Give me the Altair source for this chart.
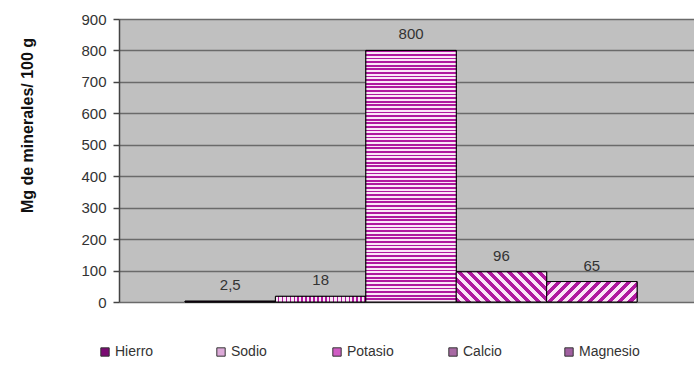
import altair as alt
import pandas as pd

minerals = ["Hierro", "Sodio", "Potasio", "Calcio", "Magnesio"]
values = [2.5, 18, 800, 96, 65]
legend_colors = ["#7a0a72", "#dcaad8", "#d05cc4", "#a86aa4", "#a060a0"]

df = pd.DataFrame({"Mineral": minerals, "value": values})

W, H = 575, 283
YMAX = 900
PAD_OUTER = 0.68
BAND = W / (len(minerals) + 2 * PAD_OUTER)

STRIPE = "#b0189f"
GAP = "#fbe6f7"
FONT = "Liberation Sans"


def stripe_stops(n, c1=STRIPE, c2=GAP, duty=0.5):
    n = max(1, int(round(n)))
    stops = []
    for i in range(n):
        a, b, c = i / n, (i + duty) / n, (i + 1) / n
        stops += [alt.GradientStop(color=c1, offset=a), alt.GradientStop(color=c1, offset=b),
                  alt.GradientStop(color=c2, offset=b), alt.GradientStop(color=c2, offset=c)]
    return stops


def fill_for(name, v):
    w = BAND
    h = max(v / YMAX * H, 0.5)
    if name == "Hierro":
        return "#6e0868"
    if name == "Sodio":
        return alt.LinearGradient(gradient="linear", x1=0, y1=0, x2=1, y2=0,
                                  stops=stripe_stops(w / 4, GAP, STRIPE, 0.6))
    if name == "Potasio":
        return alt.LinearGradient(gradient="linear", x1=0, y1=0, x2=0, y2=1,
                                  stops=stripe_stops(h / 3.6))
    k = (w + h) / (w * w + h * h)
    n = (w + h) / 10
    if name == "Calcio":
        return alt.LinearGradient(gradient="linear", x1=0, y1=1, x2=k * w, y2=1 - k * h,
                                  stops=stripe_stops(n))
    return alt.LinearGradient(gradient="linear", x1=0, y1=0, x2=k * w, y2=k * h,
                              stops=stripe_stops(n))


xenc = alt.X("Mineral:N", sort=minerals, axis=None,
             scale=alt.Scale(domain=minerals, paddingInner=0, paddingOuter=PAD_OUTER, align=0.537))
yenc = alt.Y("value:Q",
             scale=alt.Scale(domain=[0, YMAX], nice=False),
             axis=alt.Axis(values=list(range(0, 1000, 100)), title="Mg de minerales/ 100 g",
                           titleFont=FONT, titleFontSize=16, titleFontWeight="bold", titleColor="#111",
                           titleX=-92, titleY=106, titleAngle=-90, titleAlign="center", titleBaseline="middle",
                           labelFont=FONT, labelFontSize=15, labelColor="#333", labelPadding=7,
                           tickSize=6, tickColor="#444", tickWidth=1.5,
                           domainColor="#444", domainWidth=1.5,
                           grid=True, gridColor="#6a6a6a", gridWidth=1.6))

base = alt.Chart(df)

legend_layer = base.mark_bar(stroke="black", strokeWidth=1).encode(
    x=xenc, y=yenc,
    color=alt.Color("Mineral:N", sort=minerals,
                    scale=alt.Scale(domain=minerals, range=legend_colors),
                    legend=alt.Legend(title=None, orient="none", direction="horizontal", columns=5,
                                      legendX=-21, legendY=326, gridAlign="all", columnPadding=38,
                                      symbolType="square", symbolSize=70, symbolStrokeColor="#333",
                                      symbolStrokeWidth=1, labelFont=FONT, labelFontSize=14,
                                      labelColor="#333", labelOffset=3, padding=0)),
)

layers = [legend_layer]
for name, v in zip(minerals, values):
    layers.append(
        base.transform_filter(alt.datum.Mineral == name)
        .mark_bar(fill=fill_for(name, v), stroke="black", strokeWidth=1)
        .encode(x=xenc, y=yenc)
    )

labels = base.transform_calculate(
    label="replace(toString(datum.value), '.', ',')"
).mark_text(font=FONT, fontSize=15, color="#333", baseline="alphabetic", dy=-11).encode(
    x=xenc, y=yenc, text="label:N"
)
layers.append(labels)

chart = alt.layer(*layers).properties(
    width=W, height=H,
    autosize=alt.AutoSizeParams(type="none"),
    padding={"left": 119, "top": 19, "right": 0, "bottom": 78},
    background="white",
).configure_view(fill="#c0c0c0", stroke=None)

chart.save("out.html", embed_options={"renderer": "svg", "actions": False})
